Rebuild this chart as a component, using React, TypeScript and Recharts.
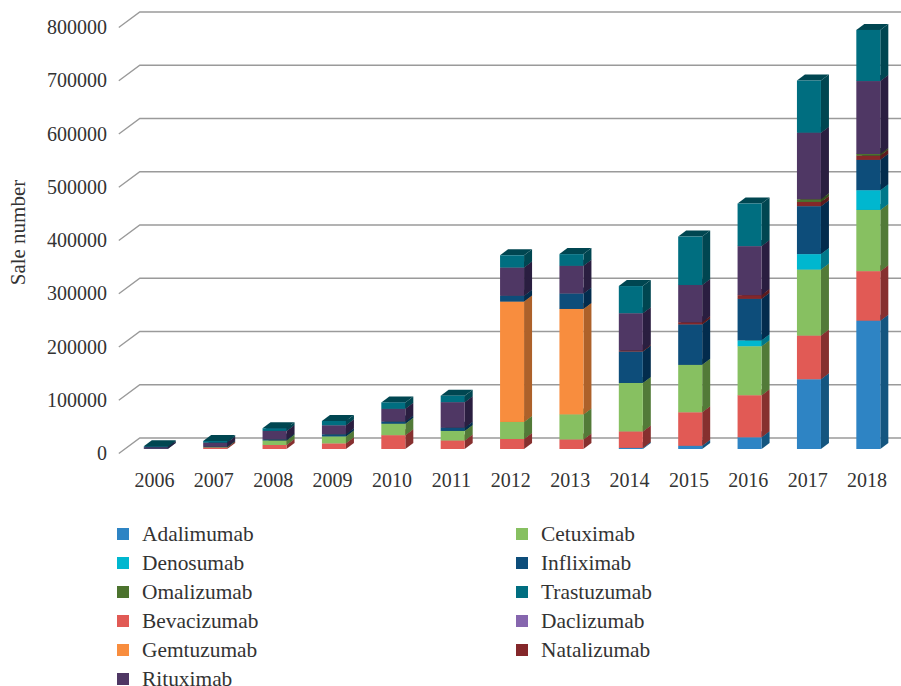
import { BarChart, Bar, XAxis, YAxis, CartesianGrid, Legend } from 'recharts'

const years = ['2006', '2007', '2008', '2009', '2010', '2011', '2012', '2013', '2014', '2015', '2016', '2017', '2018']
const yTicks = [0, 100000, 200000, 300000, 400000, 500000, 600000, 700000, 800000]

const adalimumab = [0, 0, 0, 0, 0, 0, 0, 0, 2000, 6000, 22000, 131000, 241000]
const bevacizumab = [0, 3000, 7500, 10600, 26000, 16000, 18800, 18000, 31000, 63000, 79000, 82000, 93000]
const cetuximab = [0, 500, 8500, 13000, 21500, 18000, 32000, 47000, 91000, 89000, 92000, 124000, 115000]
const daclizumab = [0, 0, 0, 0, 0, 0, 0, 0, 0, 0, 0, 0, 0]
const denosumab = [0, 0, 0, 0, 0, 0, 0, 0, 0, 0, 11000, 29000, 37000]
const gemtuzumab = [0, 0, 0, 0, 0, 0, 226000, 198000, 0, 0, 0, 0, 0]
const infliximab = [500, 1000, 2000, 4000, 4000, 6000, 11000, 29000, 59000, 76000, 78000, 90000, 57000]
const natalizumab = [0, 0, 0, 0, 0, 0, 0, 0, 2000, 4000, 7000, 8000, 8000]
const omalizumab = [0, 0, 0, 0, 0, 0, 0, 0, 0, 0, 0, 5000, 3000]
const rituximab = [3000, 7500, 16000, 17000, 24000, 48000, 53000, 52000, 70000, 70000, 92000, 125000, 137000]
const trastuzumab = [1500, 3000, 5000, 8000, 12000, 12000, 23000, 22000, 51000, 91000, 80000, 98000, 96000]

// bottom to top, the order the stack is painted in
const series = [
  { name: 'Adalimumab', values: adalimumab, color: '#2e84c4', side: '#14557f' },
  { name: 'Bevacizumab', values: bevacizumab, color: '#e15a55', side: '#86302f' },
  { name: 'Cetuximab', values: cetuximab, color: '#87c061', side: '#527a38' },
  { name: 'Daclizumab', values: daclizumab, color: '#8666ae', side: '#55406f' },
  { name: 'Denosumab', values: denosumab, color: '#00b7cf', side: '#00788a' },
  { name: 'Gemtuzumab', values: gemtuzumab, color: '#f88d3e', side: '#ad612a' },
  { name: 'Infliximab', values: infliximab, color: '#0d4d7a', side: '#032c4d' },
  { name: 'Natalizumab', values: natalizumab, color: '#84272a', side: '#5c1a1c' },
  { name: 'Omalizumab', values: omalizumab, color: '#4c732e', side: '#33501e' },
  { name: 'Rituximab', values: rituximab, color: '#4f3764', side: '#2a1e40' },
  { name: 'Trastuzumab', values: trastuzumab, color: '#006e80', side: '#004651' },
]

const legendLeft = ['Adalimumab', 'Denosumab', 'Omalizumab', 'Bevacizumab', 'Gemtuzumab', 'Rituximab']
const legendRight = ['Cetuximab', 'Infliximab', 'Trastuzumab', 'Daclizumab', 'Natalizumab']

const data = years.map((year, i) => {
  const row: Record<string, string | number> = { year }
  series.forEach((s) => {
    row[s.name] = s.values[i]
  })
  return row
})

const FONT = '"Liberation Serif", serif'
const INK = '#333333'
const DEPTH_X = 8
const DEPTH_Y = 6

function Bar3D({ x, y, width, height, fill, side }: any) {
  if (!height || height <= 0) return null
  const r = x + width
  const b = y + height
  return (
    <g>
      <path d={`M${r} ${y}L${r + DEPTH_X} ${y - DEPTH_Y}L${r + DEPTH_X} ${b - DEPTH_Y}L${r} ${b}Z`} fill={side} />
      <path d={`M${x} ${y}L${x + DEPTH_X} ${y - DEPTH_Y}L${r + DEPTH_X} ${y - DEPTH_Y}L${r} ${y}Z`} fill={side} />
      <rect x={x} y={y} width={width} height={height} fill={fill} />
    </g>
  )
}

function GridLine({ x1, x2, y1 }: any) {
  return (
    <path
      d={`M${x1 - 7} ${y1 + 4.5}L${x1 + 14} ${y1 - 11}L${x2 + 3.3} ${y1 - 11}`}
      fill="none"
      stroke="#9a9a9a"
      strokeWidth={1.4}
    />
  )
}

function YTick({ y, payload }: any) {
  return (
    <text x={107} y={y + 11} textAnchor="end" fontFamily={FONT} fontSize={20} fill={INK}>
      {payload.value}
    </text>
  )
}

function XTick({ x, y, payload }: any) {
  return (
    <text x={x - 1} y={y + 30} textAnchor="middle" fontFamily={FONT} fontSize={20} fill={INK}>
      {payload.value}
    </text>
  )
}

function LegendRow({ name }: { name: string }) {
  const s = series.find((d) => d.name === name)
  return (
    <div style={{ height: 14, marginBottom: 15, lineHeight: '14px', display: 'flex', alignItems: 'center' }}>
      <span style={{ width: 12, height: 12, background: s?.color, marginRight: 13 }} />
      <span>{name}</span>
    </div>
  )
}

function LegendBlock() {
  return (
    <div style={{ display: 'flex', height: 159, paddingLeft: 117, overflow: 'visible', fontFamily: FONT, fontSize: 21.4, color: INK }}>
      <div style={{ width: 399 }}>
        {legendLeft.map((n) => <LegendRow key={n} name={n} />)}
      </div>
      <div>
        {legendRight.map((n) => <LegendRow key={n} name={n} />)}
      </div>
    </div>
  )
}

export default function App() {
  return (
    <div style={{ position: 'absolute', left: 0, top: 0 }}>
      <BarChart
        width={901}
        height={686}
        data={data}
        barSize={24}
        margin={{ top: 23, right: 3.3, bottom: 0, left: 0 }}
      >
        <CartesianGrid vertical={false} horizontal={(props: any) => <GridLine key={props.y1} {...props} />} />
        <XAxis dataKey="year" height={78} axisLine={false} tickLine={false} tick={XTick} interval={0} />
        <YAxis
          width={125.8}
          domain={[0, 800000]}
          ticks={yTicks}
          axisLine={false}
          tickLine={false}
          tick={YTick}
          label={{
            content: () => (
              <text transform="rotate(-90 25 232.5)" x={25} y={232.5} textAnchor="middle" fontFamily={FONT} fontSize={21} fill={INK}>
                Sale number
              </text>
            ),
          }}
        />
        <Legend verticalAlign="bottom" content={LegendBlock} wrapperStyle={{ left: 0, width: 901 }} />
        {series.map((s) => (
          <Bar
            key={s.name}
            dataKey={s.name}
            stackId="sales"
            fill={s.color}
            isAnimationActive={false}
            shape={(props: any) => <Bar3D {...props} side={s.side} />}
          />
        ))}
      </BarChart>
    </div>
  )
}
